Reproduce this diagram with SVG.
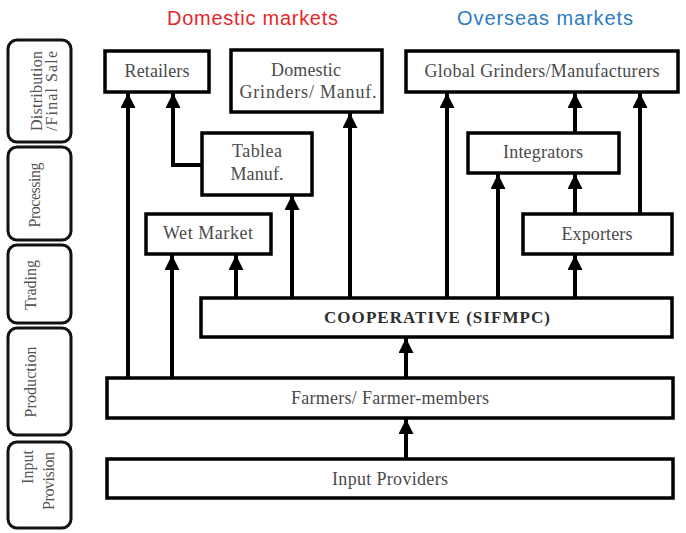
<svg xmlns="http://www.w3.org/2000/svg" width="686" height="533" viewBox="0 0 686 533">
<style>
.box{fill:#fff;stroke:#000;stroke-width:3.5}
.lab{fill:#fff;stroke:#111;stroke-width:3}
.t{font-family:"Liberation Serif","Times New Roman",serif;font-size:18px;fill:#4a4a4a;text-anchor:middle}
.tb{font-family:"Liberation Serif","Times New Roman",serif;font-size:17px;font-weight:bold;fill:#2e2e2e;text-anchor:middle}
.lt{font-family:"Liberation Serif","Times New Roman",serif;font-size:16px;fill:#555;text-anchor:middle}
.h{font-family:"Liberation Sans",Arial,sans-serif;font-size:20px}
.c{fill:none;stroke:#000;stroke-width:4;marker-end:url(#ah)}
</style>
<defs>
<marker id="ah" markerUnits="userSpaceOnUse" markerWidth="16" markerHeight="15" refX="15" refY="7.5" orient="auto" viewBox="0 0 16 15">
<path d="M0,0 L15,7.5 L0,15 z" fill="#000"/>
</marker>
</defs>
<rect width="686" height="533" fill="#fff"/>
<g id="headers">
<text class="h" x="167" y="25" fill="#e8262a" textLength="171">Domestic markets</text>
<text class="h" x="457" y="25" fill="#2b7bbf" textLength="176">Overseas markets</text>
</g>
<g id="stages">
<g id="stage-distribution"><rect class="lab" x="8" y="40" width="63" height="102" rx="9"/>
<text class="lt" transform="translate(42,91) rotate(-90)" textLength="80">Distribution</text>
<text class="lt" transform="translate(57,91) rotate(-90)" textLength="80">/Final Sale</text></g>
<g id="stage-processing"><rect class="lab" x="8" y="147" width="63" height="93" rx="9"/>
<text class="lt" transform="translate(40,195) rotate(-90)" textLength="65">Processing</text></g>
<g id="stage-trading"><rect class="lab" x="8" y="245" width="63" height="78" rx="9"/>
<text class="lt" transform="translate(36,285) rotate(-90)">Trading</text></g>
<g id="stage-production"><rect class="lab" x="8" y="328" width="63" height="107" rx="9"/>
<text class="lt" transform="translate(36,382) rotate(-90)" textLength="71">Production</text></g>
<g id="stage-input"><rect class="lab" x="8" y="442" width="63" height="86" rx="9"/>
<text class="lt" transform="translate(33,467) rotate(-90)">Input</text>
<text class="lt" transform="translate(54,481) rotate(-90)" textLength="58">Provision</text></g>
</g>
<g id="connectors">
<line class="c" x1="128" y1="378" x2="128" y2="93"/>
<line class="c" x1="172" y1="378" x2="172" y2="255"/>
<line class="c" x1="236" y1="298" x2="236" y2="255"/>
<line class="c" x1="292" y1="298" x2="292" y2="195"/>
<path class="c" d="M202,165 H173 V93"/>
<line class="c" x1="350" y1="298" x2="350" y2="113"/>
<line class="c" x1="447" y1="298" x2="447" y2="93"/>
<line class="c" x1="498" y1="298" x2="498" y2="174"/>
<line class="c" x1="575" y1="298" x2="575" y2="255"/>
<line class="c" x1="575" y1="214" x2="575" y2="174"/>
<line class="c" x1="640" y1="214" x2="640" y2="93"/>
<line class="c" x1="575" y1="133" x2="575" y2="93"/>
<line class="c" x1="406" y1="378" x2="406" y2="338"/>
<line class="c" x1="406" y1="459" x2="406" y2="419"/>
</g>
<g id="retailers"><rect class="box" x="105" y="51" width="104" height="41"/><text class="t" x="157" y="77" textLength="65">Retailers</text></g>
<g id="domestic-grinders"><rect class="box" x="231" y="50" width="151" height="62"/><text class="t" x="306" y="76" textLength="70">Domestic</text><text class="t" x="308" y="98" textLength="137">Grinders/ Manuf.</text></g>
<g id="global-grinders"><rect class="box" x="406" y="51" width="272" height="41"/><text class="t" x="542" y="77" textLength="235">Global Grinders/Manufacturers</text></g>
<g id="tablea"><rect class="box" x="202" y="133" width="110" height="62"/><text class="t" x="257" y="157" textLength="50">Tablea</text><text class="t" x="257" y="180" textLength="53">Manuf.</text></g>
<g id="integrators"><rect class="box" x="468" y="133" width="151" height="40"/><text class="t" x="543" y="158" textLength="80">Integrators</text></g>
<g id="wet-market"><rect class="box" x="146" y="214" width="125" height="40"/><text class="t" x="208" y="239" textLength="90">Wet Market</text></g>
<g id="exporters"><rect class="box" x="523" y="214" width="149" height="40"/><text class="t" x="597" y="240" textLength="71">Exporters</text></g>
<g id="cooperative"><rect class="box" x="201" y="298" width="471" height="39"/><text class="tb" x="437" y="323" textLength="226">COOPERATIVE (SIFMPC)</text></g>
<g id="farmers"><rect class="box" x="107" y="378" width="566" height="40"/><text class="t" x="390" y="404" textLength="198">Farmers/ Farmer-members</text></g>
<g id="input-providers"><rect class="box" x="107" y="459" width="566" height="39"/><text class="t" x="390" y="485" textLength="116">Input Providers</text></g>
</svg>
